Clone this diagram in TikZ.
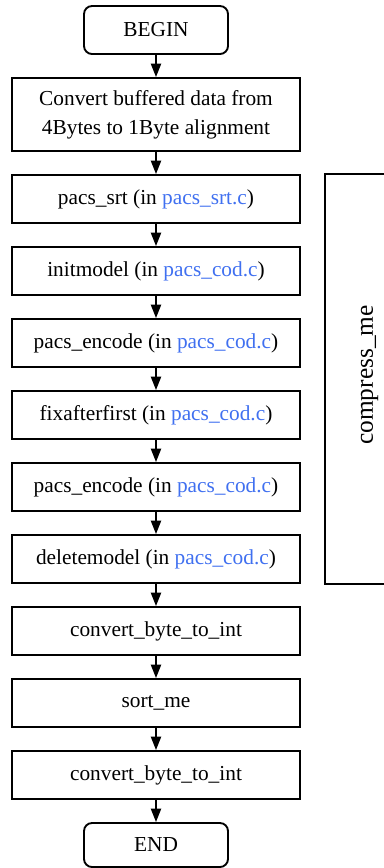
\documentclass[tikz,border=0pt]{standalone}
\usepackage{fontspec}
\setmainfont{Liberation Serif}
\usepackage{xcolor}
\usepackage{tikz}
\usetikzlibrary{arrows.meta,positioning,calc}

\definecolor{fileblue}{RGB}{64,112,240}
\newcommand{\srcfile}[1]{\textcolor{fileblue}{#1}}

\begin{document}
\begin{tikzpicture}[
    term/.style={rectangle, draw=black, line width=1.4pt, rounded corners=6pt, minimum width=108pt, minimum height=36pt, inner sep=2pt},
    stepbox/.style={rectangle, draw=black, line width=1.4pt, minimum width=216pt, minimum height=36pt, inner sep=2pt},
    arr/.style={-{Triangle[length=10pt,width=7.5pt]}, line width=1.4pt},
    group/.style={draw=black, line width=1.4pt},
    node distance=16.6pt,
    font=\fontsize{16pt}{22pt}\selectfont
]
    \useasboundingbox (0,0) rectangle (288pt,-651pt);

    % Start and preparation
    \node[term]                  at (117pt,-22.5pt) (begin) {BEGIN};
    \node[stepbox, minimum height=54.75pt, align=center, below=of begin] (conv)
        {Convert buffered data from\\4Bytes to 1Byte alignment};

    % compress_me steps
    \node[stepbox, below=of conv] (srt)  {pacs\_srt (in \srcfile{pacs\_srt.c})};
    \node[stepbox, below=of srt]  (init) {initmodel (in \srcfile{pacs\_cod.c})};
    \node[stepbox, below=of init] (enc1) {pacs\_encode (in \srcfile{pacs\_cod.c})};
    \node[stepbox, below=of enc1] (fix)  {fixafterfirst (in \srcfile{pacs\_cod.c})};
    \node[stepbox, below=of fix]  (enc2) {pacs\_encode (in \srcfile{pacs\_cod.c})};
    \node[stepbox, below=of enc2] (del)  {deletemodel (in \srcfile{pacs\_cod.c})};

    % Final steps
    \node[stepbox, below=of del]  (b2ia) {convert\_byte\_to\_int};
    \node[stepbox, below=of b2ia] (sort) {sort\_me};
    \node[stepbox, below=of sort] (b2ib) {convert\_byte\_to\_int};
    \node[term, minimum height=33pt, below=of b2ib] (stop) {END};

    % Arrows
    \draw[arr] (begin) -- (conv);
    \draw[arr] (conv)  -- (srt);
    \draw[arr] (srt)   -- (init);
    \draw[arr] (init)  -- (enc1);
    \draw[arr] (enc1)  -- (fix);
    \draw[arr] (fix)   -- (enc2);
    \draw[arr] (enc2)  -- (del);
    \draw[arr] (del)   -- (b2ia);
    \draw[arr] (b2ia)  -- (sort);
    \draw[arr] (sort)  -- (b2ib);
    \draw[arr] (b2ib)  -- (stop);

    % Group frame (runs off the right edge)
    \draw[group] ($(srt.north east)+(18pt,0)$) rectangle ($(del.south east)+(82pt,0)$);
    \node[rotate=90, font=\fontsize{19pt}{22pt}\selectfont] (grp)
        at ($($(srt.north east)!0.5!(del.south east)$)+(51.5pt,3pt)$) {compress\_me};

\end{tikzpicture}
\end{document}
